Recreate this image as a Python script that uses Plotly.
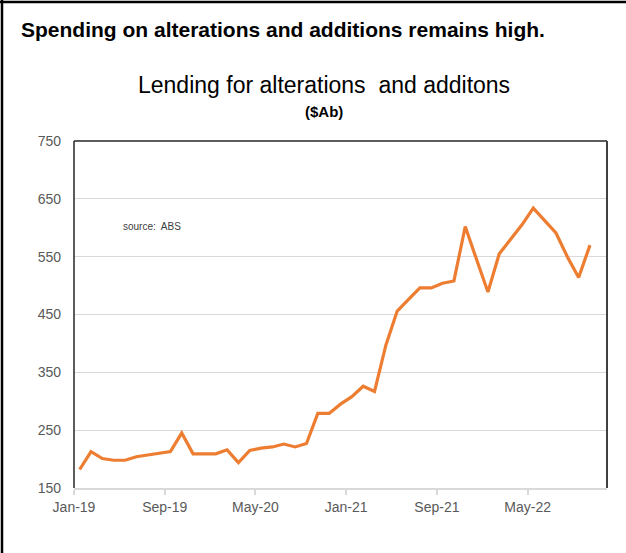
import pandas as pd
import plotly.graph_objects as go

# Monthly lending for alterations and additions ($Ab), Jan-19 .. Oct-22
months = pd.date_range("2019-01-01", "2022-11-01", freq="MS")  # axis spans Jan-19..Nov-22
month_labels = [m.strftime("%b-%y") for m in months]
values = [182, 213, 201, 198, 198, 204, 207, 210, 213, 245,
          209, 209, 209, 216, 194, 215, 219, 221, 226, 221,
          227, 279, 279, 295, 308, 326, 317, 397, 456, 476,
          496, 496, 504, 508, 602, 545, 489, 555, 580, 605,
          634, 612, 591, 550, 514, 570]
y_ticks = [150, 250, 350, 450, 550, 650, 750]

x_idx = list(range(len(values)))
tick_every = 8
tickvals = [i - 0.5 for i in range(0, len(months), tick_every)]
ticktext = [month_labels[i] for i in range(0, len(months), tick_every)]

NARROW = "Liberation Sans Narrow, Arial Narrow, Liberation Sans, Arial, sans-serif"
ARIAL = "Liberation Sans, Arial, sans-serif"

PW, PH = 533, 347  # plot area size in px

fig = go.Figure()
fig.add_trace(go.Scatter(
    x=x_idx, y=values, mode="lines",
    line=dict(color="#ED7D31", width=3.2),
    hoverinfo="skip", showlegend=False,
))

fig.update_layout(
    width=626, height=553,
    margin=dict(l=74, r=19, t=141, b=65),
    paper_bgcolor="white", plot_bgcolor="white",
    font=dict(family=NARROW, color="#595959", size=14),
    xaxis=dict(
        range=[-0.5, len(months) - 0.5],
        tickmode="array", tickvals=tickvals, ticktext=ticktext,
        showgrid=False, zeroline=False,
        showline=True, linecolor="#d9d9d9", linewidth=1.5,
        ticks="outside", ticklen=5, tickcolor="#d9d9d9", tickwidth=1.5,
        tickfont=dict(family=NARROW, size=14, color="#595959"),
    ),
    yaxis=dict(
        range=[150, 750], tickvals=y_ticks,
        showgrid=True, gridcolor="#d9d9d9", gridwidth=1.2,
        zeroline=False, showline=False, ticks="",
        ticklabelstandoff=12,
        tickfont=dict(family=NARROW, size=14, color="#595959"),
    ),
    shapes=[
        # outer border (top and left)
        dict(type="line", xref="paper", yref="paper", x0=-0.2, x1=1.2,
             y0=1 + 139/PH, y1=1 + 139/PH, line=dict(color="black", width=2.5)),
        dict(type="line", xref="paper", yref="paper", x0=-72/PW, x1=-72/PW,
             y0=-0.3, y1=1.5, line=dict(color="black", width=2.5)),
        # plot frame: left, top, right
        dict(type="line", xref="paper", yref="paper", x0=0, x1=0, y0=0, y1=1,
             line=dict(color="#262626", width=1.5)),
        dict(type="line", xref="paper", yref="paper", x0=0, x1=1, y0=1, y1=1,
             line=dict(color="#262626", width=1.5)),
        dict(type="line", xref="paper", yref="paper", x0=1, x1=1, y0=0, y1=1,
             line=dict(color="#404040", width=2)),
    ],
    annotations=[
        dict(text="<b>Spending on alterations and additions remains high.</b>",
             xref="paper", yref="paper", x=-55/PW, y=1 + (141-30)/PH,
             xanchor="left", yanchor="middle", showarrow=False,
             font=dict(family=ARIAL, size=21, color="black")),
        dict(text="Lending for alterations  and additons",
             xref="paper", yref="paper", x=(324-74)/PW, y=1 + (141-85)/PH,
             xanchor="center", yanchor="middle", showarrow=False,
             font=dict(family=NARROW, size=23, color="black")),
        dict(text="<b>($Ab)</b>",
             xref="paper", yref="paper", x=(324-74)/PW, y=1 + (141-111)/PH,
             xanchor="center", yanchor="middle", showarrow=False,
             font=dict(family=NARROW, size=15, color="black")),
        dict(text="source:  ABS",
             xref="paper", yref="paper", x=(121-74)/PW, y=(488-226)/PH,
             xanchor="left", yanchor="middle", showarrow=False,
             font=dict(family=NARROW, size=10, color="#404040")),
    ],
)

fig.write_html("out.html")
